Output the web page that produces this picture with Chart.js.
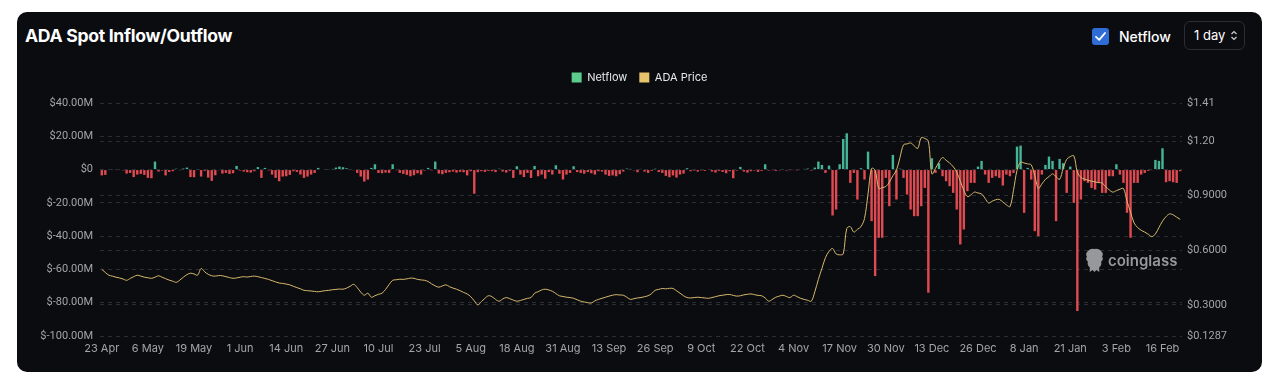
<!DOCTYPE html>
<html>
<head>
<meta charset="utf-8">
<script src="https://cdn.jsdelivr.net/npm/chart.js@4.4.1/dist/chart.umd.min.js"></script>
<style>
  html, body { margin: 0; padding: 0; background: #ffffff; width: 1280px; height: 385px; overflow: hidden; }
  body { font-family: Inter, "Noto Sans", sans-serif; }
  .card { position: absolute; left: 17px; top: 12px; width: 1245px; height: 360px; background: #0b0c10; border-radius: 10px; }
  .title { position: absolute; left: 8px; top: 13px; color: #fff; font-size: 17.6px; font-weight: 700; letter-spacing: -0.3px; }
  .check { position: absolute; left: 1075px; top: 16px; width: 17px; height: 17px; background: #2f6cd6; border-radius: 3px; }
  .check svg { position: absolute; left: 2px; top: 2px; }
  .netlbl { position: absolute; left: 1102px; top: 16px; color: #fff; font-size: 14px; font-weight: 500; }
  .sel { position: absolute; left: 1167px; top: 9px; width: 59px; height: 27px; border: 1px solid #2a2d34; border-radius: 6px; color: #fff; font-size: 13px; }
  .sel span { position: absolute; left: 9px; top: 5px; }
  .sel svg { position: absolute; left: 45px; top: 8px; }
  #wrap { position: absolute; left: 0; top: 46px; width: 1245px; height: 308px; }
  .wm { position: absolute; left: 1068px; top: 236px; color: #96989c; font-size: 15px; font-weight: 600; pointer-events: none; }
  .wm svg { position: absolute; left: 0; top: 0; }
  .wm span { position: absolute; left: 23px; top: 3px; }
</style>
</head>
<body>
<div class="card">
  <div class="title">ADA Spot Inflow/Outflow</div>
  <div class="check"><svg width="13" height="13" viewBox="0 0 13 13"><path d="M2 6.8 L5.2 9.8 L11 3" fill="none" stroke="#fff" stroke-width="1.8" stroke-linecap="round" stroke-linejoin="round"/></svg></div>
  <div class="netlbl">Netflow</div>
  <div class="sel"><span>1 day</span><svg width="8" height="11" viewBox="0 0 8 11"><path d="M1.5 4 L4 1.5 L6.5 4 M1.5 7 L4 9.5 L6.5 7" fill="none" stroke="#cfd1d6" stroke-width="1.2"/></svg></div>
  <div id="wrap"><canvas id="flowChart"></canvas></div>
  <div class="wm">
    <svg width="19" height="25" viewBox="0 0 20 26"><path d="M3 3 Q6 0 10 1 Q14 0 17 3 Q20 6 18 9 Q20 12 17 14 Q18 18 15 20 L15 25 L12 23 L10 25 L8 23 L5 25 L5 20 Q2 18 3 14 Q0 12 2 9 Q0 6 3 3 Z" fill="#96989c"/></svg>
    <span>coinglass</span>
  </div>
</div>
<script>
// Daily netflow (USD millions), 23 Apr 2024 -> 21 Feb 2025
const netflow = [
  -3.5, -3.2, -0.3, 0.2, -0.2, 0.3, -0.5, -2.4, -2.0, -4.5,
  -3.0, -2.6, -3.2, -5.0, -5.2, 4.8, -1.2, -0.6, -3.5, -1.4,
  -1.0, 0.5, -0.4, 0.6, 1.2, -4.5, -4.6, -0.3, -4.2, -0.8,
  -4.8, -6.8, -3.4, -0.4, -2.4, -2.0, -2.6, -2.2, 2.2, -0.6,
  -1.2, -1.6, -1.8, -1.0, 1.5, -5.0, 1.0, -0.5, -3.0, -5.0,
  -7.0, -4.2, -4.0, -3.2, -1.0, -1.4, -3.0, -5.0, -4.2, -3.0,
  -2.0, 1.0, 0.3, -0.3, 0.2, 0.4, 1.2, 1.8, 1.4, 0.8,
  0.3, -0.4, -2.0, -4.2, -7.2, -6.0, 1.0, 3.2, -2.0, -2.2,
  -1.8, -2.0, 3.2, -0.4, -2.0, -2.6, -3.2, -4.0, -3.4, -2.2,
  -3.0, -0.6, 1.0, -0.5, 4.8, -2.4, -2.8, -2.0, -1.6, -1.2,
  -1.8, -1.4, -1.6, -3.5, -1.0, -14.5, -1.6, -1.0, -1.4, -0.8,
  -1.0, -1.5, 0.5, -1.2, -1.8, -0.8, -5.0, 2.0, -3.0, -4.5,
  -2.0, -5.0, 2.2, -4.0, -3.0, -5.5, -1.5, -3.0, 2.6, -2.5,
  -6.0, -3.0, -2.0, 2.0, -1.5, -2.0, -2.5, -1.5, -2.2, -3.0,
  -1.0, -1.2, -3.0, -3.8, -3.5, -4.0, -2.8, -1.2, 0.6, 0.4,
  -0.5, -1.6, 0.4, -1.2, -2.0, -0.8, 0.5, -1.5, -2.0, -3.8,
  -4.6, -3.5, -4.8, -3.0, -2.4, 0.8, -1.0, -0.6, -1.2, -0.5,
  -0.8, -0.3, -1.2, -1.8, -0.8, -1.4, -2.2, -1.0, -5.2, -0.6,
  1.6, -1.2, -1.8, -1.0, -0.6, -1.4, -0.8, 3.2, -0.6, -0.4,
  -0.8, -0.5, -0.3, -0.6, -0.4, -0.2, -0.5, -0.3, 0.4, 0.6,
  -0.6, 1.2, 4.8, 2.8, -2.0, 2.4, -27.6, -24.0, 3.2, 18.4,
  21.8, -8.0, -2.0, -18.0, 0.8, -6.0, 10.8, -31.0, -64.0, -41.0,
  -41.0, -5.0, -22.0, 8.8, -18.0, 0.5, -5.0, -15.0, -24.0, -28.0,
  -28.0, -22.0, -11.0, -74.0, 6.8, -2.0, 3.8, -4.0, -7.0, -10.0,
  -14.0, -24.0, -45.0, -36.0, -13.0, -8.0, -8.0, 1.8, 5.2, -3.0,
  -8.0, -5.0, -4.0, -5.0, -9.6, -3.0, -4.0, -2.0, 13.8, 14.4,
  -26.0, 1.0, -6.0, -37.0, -40.0, -3.0, 2.8, 7.8, 5.2, -31.0,
  6.4, 3.8, -14.0, 1.8, -20.0, -85.0, -18.0, -7.0, -8.0, -11.0,
  -12.0, -8.0, -14.0, -14.0, -4.0, -4.0, 3.2, -3.0, -8.0, -26.0,
  -41.0, -8.0, -8.0, -3.0, -2.0, -0.8, -0.4, 5.8, 5.2, 12.8,
  -7.6, -7.0, -7.6, -8.0, -1.0
];

// ADA price (USD)
const adaPrice = [
  0.495, 0.478, 0.463, 0.458, 0.452, 0.448, 0.442, 0.435, 0.445, 0.455,
  0.463, 0.458, 0.452, 0.449, 0.446, 0.452, 0.460, 0.452, 0.444, 0.436,
  0.430, 0.424, 0.436, 0.452, 0.466, 0.474, 0.470, 0.463, 0.500, 0.482,
  0.468, 0.460, 0.458, 0.461, 0.460, 0.455, 0.450, 0.446, 0.448, 0.452,
  0.455, 0.453, 0.456, 0.458, 0.455, 0.450, 0.445, 0.440, 0.433, 0.426,
  0.420, 0.418, 0.414, 0.410, 0.402, 0.395, 0.388, 0.380, 0.378, 0.376,
  0.374, 0.372, 0.375, 0.378, 0.380, 0.383, 0.385, 0.387, 0.386, 0.392,
  0.402, 0.413, 0.395, 0.370, 0.353, 0.364, 0.342, 0.350, 0.358, 0.364,
  0.385, 0.412, 0.435, 0.438, 0.441, 0.440, 0.443, 0.447, 0.446, 0.440,
  0.437, 0.435, 0.428, 0.415, 0.404, 0.397, 0.404, 0.410, 0.400, 0.392,
  0.386, 0.378, 0.368, 0.360, 0.345, 0.322, 0.300, 0.318, 0.336, 0.350,
  0.345, 0.330, 0.320, 0.332, 0.340, 0.334, 0.326, 0.320, 0.324, 0.330,
  0.336, 0.340, 0.364, 0.372, 0.382, 0.386, 0.382, 0.375, 0.362, 0.350,
  0.346, 0.342, 0.340, 0.336, 0.328, 0.320, 0.316, 0.312, 0.310, 0.322,
  0.330, 0.336, 0.342, 0.348, 0.353, 0.356, 0.354, 0.353, 0.342, 0.330,
  0.334, 0.338, 0.340, 0.345, 0.350, 0.362, 0.380, 0.385, 0.390, 0.388,
  0.391, 0.390, 0.378, 0.364, 0.350, 0.340, 0.338, 0.340, 0.342, 0.340,
  0.338, 0.336, 0.340, 0.345, 0.350, 0.353, 0.356, 0.357, 0.352, 0.348,
  0.350, 0.355, 0.358, 0.360, 0.356, 0.352, 0.350, 0.338, 0.320, 0.330,
  0.342, 0.348, 0.353, 0.346, 0.340, 0.353, 0.345, 0.336, 0.330, 0.325,
  0.320, 0.372, 0.440, 0.500, 0.560, 0.594, 0.610, 0.580, 0.575, 0.580,
  0.720, 0.730, 0.700, 0.715, 0.730, 0.775, 0.910, 1.050, 1.040, 0.940,
  0.945, 0.950, 0.975, 1.010, 1.040, 1.110, 1.180, 1.185, 1.190, 1.175,
  1.160, 1.220, 1.215, 1.200, 1.020, 1.050, 1.085, 1.110, 1.095, 1.080,
  1.060, 1.030, 0.980, 0.930, 0.895, 0.905, 0.920, 0.915, 0.910, 0.885,
  0.860, 0.870, 0.878, 0.880, 0.865, 0.850, 0.840, 0.930, 1.040, 1.085,
  1.080, 1.075, 1.070, 1.010, 0.940, 0.965, 0.990, 1.005, 1.020, 1.005,
  0.990, 1.050, 1.100, 1.115, 1.120, 1.030, 1.000, 0.992, 0.985, 0.980,
  0.976, 0.972, 0.970, 0.950, 0.932, 0.920, 0.928, 0.936, 0.940, 0.870,
  0.810, 0.750, 0.725, 0.710, 0.700, 0.688, 0.675, 0.690, 0.725, 0.760,
  0.785, 0.800, 0.795, 0.782, 0.770
];

const startDay = '2024-04-23';
const labelEvery = 13;
const flowTicks = [-100, -80, -60, -40, -20, 0, 20, 40];
const priceTicks = [0.1287, 0.3, 0.6, 0.9, 1.2, 1.41];
const priceTickLabels = ['$0.1287', '$0.3000', '$0.6000', '$0.9000', '$1.20', '$1.41'];

const GREEN = '#46b497';
const RED = '#e24a52';
const LINE = '#d8b96c';
const TICK = '#a3a5aa';
const GRID = '#2a2d35';

// build category labels (one per day)
const months = ['Jan','Feb','Mar','Apr','May','Jun','Jul','Aug','Sep','Oct','Nov','Dec'];
const dayLabels = netflow.map((_, i) => {
  const d = new Date(startDay + 'T00:00:00Z');
  d.setUTCDate(d.getUTCDate() + i);
  return d.getUTCDate() + ' ' + months[d.getUTCMonth()];
});

// extra gap under the legend
const legendGap = {
  id: 'legendGap',
  beforeInit(chart) {
    const fit = chart.legend.fit;
    chart.legend.fit = function () {
      fit.call(this);
      this.height += 10;
    };
  }
};

const ctx = document.getElementById('flowChart').getContext('2d');
new Chart(ctx, {
  data: {
    labels: dayLabels,
    datasets: [
      {
        type: 'line',
        label: 'ADA Price',
        data: adaPrice,
        yAxisID: 'yPrice',
        borderColor: LINE,
        borderWidth: 1,
        pointRadius: 0,
        tension: 0.35,
        order: 0
      },
      {
        type: 'bar',
        label: 'Netflow',
        data: netflow,
        yAxisID: 'yFlow',
        backgroundColor: c => (c.raw >= 0 ? GREEN : RED),
        barPercentage: 0.68,
        categoryPercentage: 1,
        order: 1
      }
    ]
  },
  plugins: [legendGap],
  options: {
    responsive: true,
    maintainAspectRatio: false,
    animation: false,
    layout: { padding: { top: 2, left: 0, right: 0, bottom: 0 } },
    plugins: {
      tooltip: { enabled: false },
      legend: {
        display: true,
        labels: {
          color: '#e8e8ea',
          font: { family: 'Inter', size: 11 },
          boxWidth: 10,
          boxHeight: 10,
          padding: 12,
          generateLabels: () => [
            { text: 'Netflow', fillStyle: '#5ccb8e', strokeStyle: '#5ccb8e', lineWidth: 0, fontColor: '#e8e8ea', datasetIndex: 1 },
            { text: 'ADA Price', fillStyle: '#e6c46b', strokeStyle: '#e6c46b', lineWidth: 0, fontColor: '#e8e8ea', datasetIndex: 0 }
          ]
        }
      }
    },
    scales: {
      x: {
        offset: true,
        grid: { display: false, drawTicks: false },
        border: { display: false },
        afterFit: s => { s.height = 30; },
        ticks: {
          color: TICK,
          font: { family: 'Inter', size: 11 },
          autoSkip: false,
          maxRotation: 0,
          padding: 6,
          callback: (v, i) => (i % labelEvery === 0 ? dayLabels[i] : '')
        }
      },
      yFlow: {
        position: 'left',
        min: -100,
        max: 40,
        afterBuildTicks: s => { s.ticks = flowTicks.map(v => ({ value: v })); },
        afterFit: s => { s.width = 83; },
        grid: { color: GRID, drawTicks: false },
        border: { display: false, dash: [4, 4] },
        ticks: {
          color: TICK,
          font: { family: 'Roboto', size: 11 },
          padding: 7,
          callback: v => (v === 0 ? '$0' : '$' + v.toFixed(2) + 'M')
        }
      },
      yPrice: {
        position: 'right',
        min: 0.1287,
        max: 1.41,
        afterBuildTicks: s => { s.ticks = priceTicks.map(v => ({ value: v })); },
        afterFit: s => { s.width = 80; },
        grid: { color: GRID, drawTicks: false },
        border: { display: false, dash: [4, 4] },
        ticks: {
          color: TICK,
          font: { family: 'Roboto', size: 11 },
          padding: 5,
          callback: (v, i) => priceTickLabels[i]
        }
      }
    }
  }
});
</script>
</body>
</html>
